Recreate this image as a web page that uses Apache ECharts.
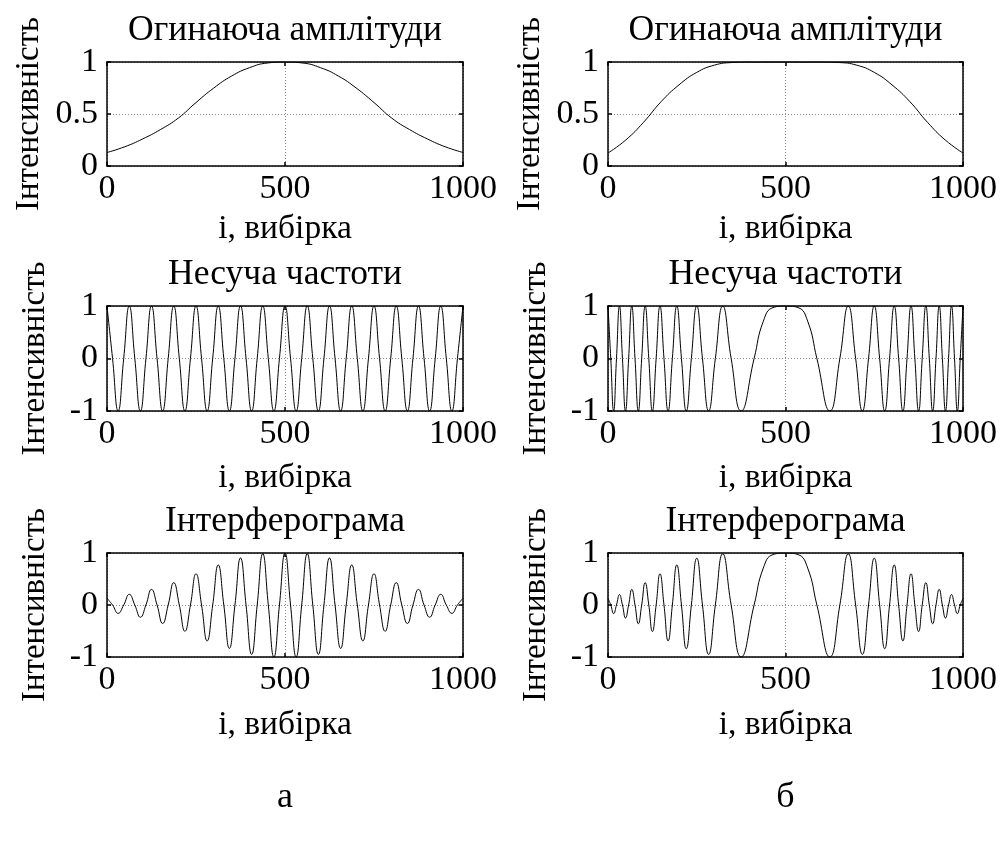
<!DOCTYPE html>
<html><head><meta charset="utf-8">
<script src="https://cdn.jsdelivr.net/npm/echarts@6/dist/echarts.min.js"></script>
<style>html,body{margin:0;padding:0;background:#fff}#c{width:1001px;height:841px}</style>
</head><body><div id="c"></div>
<script>
// ---------- data ----------
const plotTitles = ['Огинаюча амплітуди', 'Несуча частоти', 'Інтерферограма'];
const xName = 'i, вибірка';
const yName = 'Інтенсивність';
const panelLetters = ['а', 'б'];
const xTicks = [0, 500, 1000];
const yTicksTop = [0, 0.5, 1];
const yTicksOther = [-1, 0, 1];

// amplitude envelopes
const envX = [0,50,100,150,200,250,300,350,400,450,500,550,600,650,700,750,800,850,900,950,1000];
const envA = [0.13,0.185,0.26,0.35,0.46,0.61,0.75,0.865,0.945,0.99,1.0,0.99,0.945,0.865,0.75,0.61,0.46,0.35,0.26,0.185,0.13];
const envB = [0.125,0.25,0.42,0.62,0.78,0.90,0.97,0.995,1.0,1.0,1.0,1.0,1.0,0.995,0.97,0.90,0.78,0.62,0.42,0.25,0.125];

// carrier (a): extrema and zero crossings
const carAX = [0,15.6,31.3,46.9,62.5,78.1,93.8,109.4,125,140.6,156.3,171.9,187.5,203.1,218.8,234.4,250,265.6,281.3,296.9,312.5,328.1,343.8,359.4,375,390.6,406.3,421.9,437.5,453.1,468.8,484.4,500,515.6,531.3,546.9,562.5,578.1,593.8,609.4,625,640.6,656.3,671.9,687.5,703.1,718.8,734.4,750,765.6,781.3,796.9,812.5,828.1,843.8,859.4,875,890.6,906.3,921.9,937.5,953.1,968.8,984.4,1000];
const carA = [1,0,-1,0,1,0,-1,0,1,0,-1,0,1,0,-1,0,1,0,-1,0,1,0,-1,0,1,0,-1,0,1,0,-1,0,1,0,-1,0,1,0,-1,0,1,0,-1,0,1,0,-1,0,1,0,-1,0,1,0,-1,0,1,0,-1,0,1,0,-1,0,1];
const intA = [0.13,0,-0.16,0,0.205,0,-0.235,0,0.30,0,-0.355,0,0.43,0,-0.505,0,0.60,0,-0.69,0,0.77,0,-0.835,0,0.905,0,-0.95,0,0.985,0,-0.998,0,1.0,0,-0.998,0,0.985,0,-0.95,0,0.905,0,-0.835,0,0.77,0,-0.69,0,0.60,0,-0.505,0,0.43,0,-0.355,0,0.30,0,-0.235,0,0.205,0,-0.16,0,0.13];

// carrier (б): extrema and zero crossings of the chirped carrier
const carBX = [0,7.8,15.9,23.9,32.3,40.7,49.3,58.1,67,76.1,85.4,94.9,104.7,114.9,125,135.6,146.4,157.7,169.3,181.3,193.8,206.9,220.5,234.8,250,266.1,283.5,302.4,323.2,346.9,375,411.6,437.5,465,500,
  535,562.5,588.4,625,653.1,676.8,697.6,716.5,733.9,750,765.2,779.5,793.1,806.2,818.7,830.7,842.3,853.6,864.4,875,885.1,895.3,905.1,914.6,923.9,933,941.9,950.7,959.3,967.7,976.1,984.1,992.2,1000];
const carB = [1,0,-1,0,1,0,-1,0,1,0,-1,0,1,0,-1,0,1,0,-1,0,1,0,-1,0,1,0,-1,0,1,0,-1,0,0.71,0.97,1,
  0.97,0.71,0,-1,0,1,0,-1,0,1,0,-1,0,1,0,-1,0,1,0,-1,0,1,0,-1,0,1,0,-1,0,1,0,-1,0,1];
const intB = [0.125,0,-0.165,0,0.20,0,-0.25,0,0.30,0,-0.36,0,0.43,0,-0.51,0,0.60,0,-0.69,0,0.77,0,-0.84,0,0.90,0,-0.95,0,0.985,0,-1.0,0,0.71,0.97,1.0,
  0.97,0.71,0,-1.0,0,0.985,0,-0.95,0,0.90,0,-0.84,0,0.77,0,-0.69,0,0.60,0,-0.51,0,0.43,0,-0.36,0,0.30,0,-0.25,0,0.20,0,-0.165,0,0.125];

// ---------- layout ----------
const FONT = '"Liberation Serif", "Times New Roman", serif';
const rowTop = [62, 306, 553];
const rowH = [104, 105, 104];
const colLeft = [107, 608];
const colW = [356, 355];
const yNameGap = [61, 55, 55];
const xNameGap = [46, 50, 51];

const zip = (xs, ys) => xs.map((x, i) => [x, ys[i]]);
const panels = [
  [zip(envX, envA), zip(envX, envB)],
  [zip(carAX, carA), zip(carBX, carB)],
  [zip(carAX, intA), zip(carBX, intB)]
];

const grid = [], xAxis = [], yAxis = [], series = [], title = [];
let g = 0;
for (let r = 0; r < 3; r++) {
  for (let c = 0; c < 2; c++) {
    grid.push({left: colLeft[c], top: rowTop[r], width: colW[c], height: rowH[r], show: false, containLabel: false});
    const yt = r === 0 ? yTicksTop : yTicksOther;
    const ymin = yt[0], ymax = yt[yt.length - 1], yint = yt[1] - yt[0];
    const lineStyle = {color: '#000', width: 1.5};
    const tickStyle = {color: '#000', width: 1.5};
    const fmt = v => String(v);
    xAxis.push({
      gridIndex: g, type: 'value', min: xTicks[0], max: xTicks[xTicks.length - 1], interval: xTicks[1] - xTicks[0],
      position: 'bottom',
      axisLine: {show: true, onZero: false, lineStyle},
      axisTick: {show: true, inside: true, length: 4, lineStyle: tickStyle},
      axisLabel: {show: true, margin: 6, color: '#000', fontFamily: FONT, fontSize: 34, formatter: fmt},
      splitLine: {show: true, lineStyle: {color: '#8a8a8a', type: [1, 2], width: 1}},
      name: xName, nameLocation: 'middle', nameGap: xNameGap[r],
      nameTextStyle: {color: '#000', fontFamily: FONT, fontSize: 33.5}
    });
    xAxis.push({
      gridIndex: g, type: 'value', min: xTicks[0], max: xTicks[xTicks.length - 1], interval: xTicks[1] - xTicks[0],
      position: 'top',
      axisLine: {show: true, onZero: false, lineStyle},
      axisTick: {show: true, inside: true, length: 4, lineStyle: tickStyle},
      axisLabel: {show: false}, splitLine: {show: false}
    });
    yAxis.push({
      gridIndex: g, type: 'value', min: ymin, max: ymax, interval: yint, position: 'left',
      axisLine: {show: true, onZero: false, lineStyle},
      axisTick: {show: true, inside: true, length: 4, lineStyle: tickStyle},
      axisLabel: {show: true, margin: 9, color: '#000', fontFamily: FONT, fontSize: 34, formatter: fmt},
      splitLine: {show: true, lineStyle: {color: '#8a8a8a', type: [1, 2], width: 1}},
      name: yName, nameLocation: 'middle', nameGap: yNameGap[r],
      nameTextStyle: {color: '#000', fontFamily: FONT, fontSize: 33}
    });
    yAxis.push({
      gridIndex: g, type: 'value', min: ymin, max: ymax, interval: yint, position: 'right',
      axisLine: {show: true, onZero: false, lineStyle},
      axisTick: {show: true, inside: true, length: 4, lineStyle: tickStyle},
      axisLabel: {show: false}, splitLine: {show: false}
    });
    series.push({
      type: 'line', xAxisIndex: 2 * g, yAxisIndex: 2 * g, data: panels[r][c],
      showSymbol: false, smooth: 0.5, animation: false,
      lineStyle: {color: '#000', width: 1}
    });
    title.push({
      text: plotTitles[r], left: colLeft[c] + colW[c] / 2, top: rowTop[r] - 49, textAlign: 'center',
      padding: 0,
      textStyle: {color: '#000', fontFamily: FONT, fontSize: 35.5, fontWeight: 'normal'}
    });
    g++;
  }
}
for (let c = 0; c < 2; c++) {
  title.push({
    text: panelLetters[c], left: colLeft[c] + colW[c] / 2, top: 780, textAlign: 'center', padding: 0,
    textStyle: {color: '#000', fontFamily: FONT, fontSize: 36, fontWeight: 'normal'}
  });
}

const chart = echarts.init(document.getElementById('c'), null, {renderer: 'canvas'});
chart.setOption({backgroundColor: '#fff', animation: false, title, grid, xAxis, yAxis, series});
</script>
</body></html>
